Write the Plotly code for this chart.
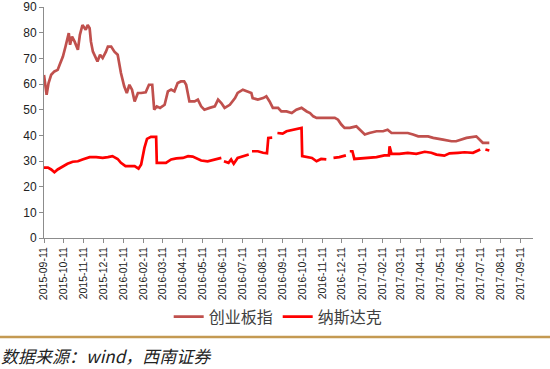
import plotly.graph_objects as go

# ---- data ----
cyb_dates = [
    "2015-09-11", "2015-09-15", "2015-09-18", "2015-09-22", "2015-09-27", "2015-10-02",
    "2015-10-05", "2015-10-10", "2015-10-14", "2015-10-19", "2015-10-21", "2015-10-24",
    "2015-10-28", "2015-11-02", "2015-11-05", "2015-11-09", "2015-11-14", "2015-11-17",
    "2015-11-20", "2015-11-22", "2015-11-25", "2015-11-29", "2015-12-02", "2015-12-06",
    "2015-12-10", "2015-12-15", "2015-12-18", "2015-12-23", "2015-12-28", "2016-01-02",
    "2016-01-07", "2016-01-12", "2016-01-16", "2016-01-20", "2016-01-24", "2016-01-28",
    "2016-02-02", "2016-02-07", "2016-02-14", "2016-02-19", "2016-02-24", "2016-02-27",
    "2016-03-02", "2016-03-07", "2016-03-14", "2016-03-19", "2016-03-24", "2016-03-29",
    "2016-04-03", "2016-04-08", "2016-04-13", "2016-04-16", "2016-04-21", "2016-04-29",
    "2016-05-04", "2016-05-09", "2016-05-14", "2016-05-22", "2016-05-30", "2016-06-04",
    "2016-06-09", "2016-06-14", "2016-06-22", "2016-06-30", "2016-07-04", "2016-07-12",
    "2016-07-20", "2016-07-25", "2016-07-27", "2016-08-04", "2016-08-12", "2016-08-17",
    "2016-08-22", "2016-08-27", "2016-09-04", "2016-09-09", "2016-09-17", "2016-09-25",
    "2016-10-02", "2016-10-10", "2016-10-18", "2016-10-23", "2016-10-28", "2016-11-02",
    "2016-11-15", "2016-11-30", "2016-12-05", "2016-12-10", "2016-12-15", "2016-12-23",
    "2017-01-02", "2017-01-07", "2017-01-15", "2017-01-22", "2017-02-02", "2017-02-12",
    "2017-02-19", "2017-02-25", "2017-03-04", "2017-03-14", "2017-03-22", "2017-03-30",
    "2017-04-07", "2017-04-22", "2017-04-30", "2017-05-15", "2017-05-28", "2017-06-04",
    "2017-06-12", "2017-06-20", "2017-07-05", "2017-07-10", "2017-07-15", "2017-07-25",
]
cyb_values = [
    63.5, 55.8, 60.4, 63.6, 64.9, 65.5,
    67.5, 70.7, 74.6, 79.8, 75.3, 78.5,
    76.5, 73.3, 79.1, 83.0, 81.1, 83.0,
    81.7, 76.5, 72.6, 70.1, 68.8, 71.4,
    70.1, 72.6, 74.6, 74.6, 72.6, 71.4,
    64.3, 59.1, 56.5, 59.7, 57.8, 53.2,
    56.5, 56.5, 56.8, 59.7, 59.7, 50.0,
    51.3, 50.7, 51.9, 57.1, 57.8, 57.1,
    60.4, 61.0, 61.0, 59.7, 53.2, 53.2,
    53.9, 51.3, 50.0, 50.7, 51.3, 53.9,
    52.6, 50.7, 51.9, 54.5, 56.5, 57.8,
    57.1, 56.5, 54.5, 53.9, 54.5, 55.2,
    53.2, 50.7, 50.7, 49.3, 49.3, 48.7,
    50.0, 50.7, 49.3, 48.7, 47.4, 46.8,
    46.8, 46.8, 46.1, 44.2, 42.9, 42.9,
    43.5, 42.2, 40.3, 40.9, 41.6, 41.6,
    42.2, 40.9, 40.9, 40.8, 40.9, 40.3,
    39.6, 39.6, 39.0, 38.3, 37.7, 37.7,
    38.3, 39.0, 39.6, 38.3, 37.1, 37.1,
]

nas_dates = [
    "2015-09-11", "2015-09-17", "2015-09-22", "2015-09-27", "2015-10-02", "2015-10-10",
    "2015-10-17", "2015-10-25", "2015-11-02", "2015-11-09", "2015-11-20", "2015-11-30",
    "2015-12-10", "2015-12-18", "2015-12-25", "2016-01-02", "2016-01-07", "2016-01-14",
    "2016-01-20", "2016-01-28", "2016-02-03", "2016-02-07", "2016-02-12", "2016-02-16",
    "2016-02-22", "2016-03-01", "2016-03-02", "2016-03-09", "2016-03-16", "2016-03-24",
    "2016-04-01", "2016-04-11", "2016-04-19", "2016-04-26", "2016-05-04", "2016-05-09",
    "2016-05-19", "2016-05-30", "2016-06-06", "2016-06-09", "2016-06-10", "2016-06-13",
    "2016-06-20", "2016-06-24", "2016-06-28", "2016-07-04", "2016-07-12", "2016-07-21",
    "2016-07-23", "2016-07-26", "2016-08-04", "2016-08-12", "2016-08-18", "2016-08-20",
    "2016-08-26", "2016-08-28", "2016-09-03", "2016-09-11", "2016-09-17", "2016-09-27",
    "2016-10-07", "2016-10-10", "2016-10-11", "2016-10-18", "2016-10-26", "2016-11-02",
    "2016-11-09", "2016-11-17", "2016-11-19", "2016-11-28", "2016-12-07", "2016-12-17",
    "2016-12-19", "2016-12-23", "2016-12-27", "2016-12-30", "2017-01-17", "2017-02-02",
    "2017-02-14", "2017-02-21", "2017-02-22", "2017-02-25", "2017-03-09", "2017-03-22",
    "2017-04-04", "2017-04-17", "2017-04-27", "2017-05-05", "2017-05-17", "2017-05-25",
    "2017-06-07", "2017-06-17", "2017-06-30", "2017-07-08", "2017-07-11", "2017-07-14",
    "2017-07-19", "2017-07-25",
]
nas_values = [
    27.4, 27.4, 26.7, 25.6, 26.7, 28.0,
    28.9, 29.7, 29.9, 30.6, 31.5, 31.5,
    31.2, 31.5, 31.9, 30.8, 29.3, 28.0,
    28.0, 28.0, 27.0, 28.6, 35.1, 38.6,
    39.4, 39.4, 29.3, 29.2, 29.3, 30.6,
    31.0, 31.2, 31.9, 31.7, 30.6, 30.2,
    29.9, 30.6, 31.2, 31.2, None, 29.9,
    29.3, 30.6, 28.9, 31.2, 31.9, 32.5,
    None, 33.8, 33.8, 33.2, 33.0, 39.0,
    39.1, None, 40.9, 40.7, 41.6, 42.2,
    42.9, 42.9, 31.9, 31.6, 31.2, 29.9,
    30.8, 30.6, None, 31.2, 31.5, 32.2,
    None, 33.8, 33.8, 30.8, 31.1, 31.5,
    32.2, 32.2, 35.7, 32.8, 32.8, 33.2,
    32.8, 33.6, 33.2, 32.5, 32.1, 33.0,
    33.2, 33.4, 33.2, 34.1, 34.5, None,
    34.5, 34.1,
]

series_names = ["创业板指", "纳斯达克"]
tick_labels = [
    "2015-09-11", "2015-10-11", "2015-11-11", "2015-12-11", "2016-01-11", "2016-02-11",
    "2016-03-11", "2016-04-11", "2016-05-11", "2016-06-11", "2016-07-11", "2016-08-11",
    "2016-09-11", "2016-10-11", "2016-11-11", "2016-12-11", "2017-01-11", "2017-02-11",
    "2017-03-11", "2017-04-11", "2017-05-11", "2017-06-11", "2017-07-11", "2017-08-11",
    "2017-09-11",
]
y_ticks = [0, 10, 20, 30, 40, 50, 60, 70, 80, 90]
source_text = "数据来源：wind，西南证券"

# ---- figure ----
fig = go.Figure()
fig.add_trace(go.Scatter(
    x=cyb_dates, y=cyb_values, name=series_names[0], mode="lines",
    line=dict(color="#C0504D", width=2.7),
))
fig.add_trace(go.Scatter(
    x=nas_dates, y=nas_values, name=series_names[1], mode="lines",
    line=dict(color="#FF0000", width=2.7), connectgaps=False,
))

axis_color = "#8C8C8C"
fig.update_layout(
    template="none",
    width=550, height=369,
    margin=dict(l=44, r=17, t=7, b=131, autoexpand=False),
    paper_bgcolor="white", plot_bgcolor="white",
    font=dict(family="Liberation Sans, Arial, sans-serif", color="#222222"),
    showlegend=True,
    legend=dict(
        orientation="h", x=0.255, y=-0.3407, xanchor="left", yanchor="middle",
        font=dict(family="Noto Sans CJK SC", size=16, color="#404040"),
        itemwidth=30, tracegroupgap=0, bgcolor="rgba(0,0,0,0)",
    ),
    xaxis=dict(
        type="date", automargin=False,
        range=["2015-09-11", "2017-09-30"],
        tickvals=tick_labels, ticktext=tick_labels,
        tickangle=-90,
        tickfont=dict(size=10.5, color="#222222"),
        showgrid=False, zeroline=False,
        showline=True, linecolor=axis_color, linewidth=1,
        ticks="outside", ticklen=4, tickcolor=axis_color,
    ),
    yaxis=dict(
        automargin=False,
        range=[0, 90],
        tickvals=y_ticks,
        tickfont=dict(size=12, color="#222222"),
        showgrid=False, zeroline=False,
        showline=True, linecolor=axis_color, linewidth=1,
        ticks="outside", ticklen=4, tickcolor=axis_color,
    ),
)

fig.add_shape(
    type="line", xref="paper", yref="paper",
    x0=-0.1, x1=1.05, y0=-0.4286, y1=-0.4286,
    line=dict(color="#C49A52", width=2.5),
)
fig.add_annotation(
    text=source_text, xref="paper", yref="paper",
    x=-0.092, y=-0.507, xanchor="left", yanchor="middle", showarrow=False,
    font=dict(family="Noto Sans CJK SC", size=17, color="#222222", style="italic"),
)

fig.write_html(
    "out.html",
    config={"displayModeBar": False},
    post_script="document.body.style.margin='0';document.body.style.overflow='hidden';",
)
